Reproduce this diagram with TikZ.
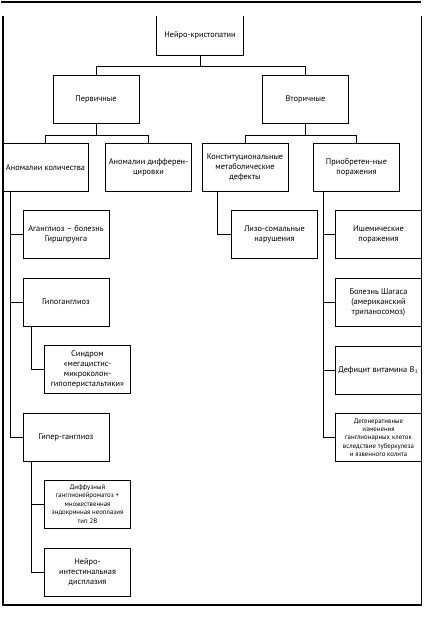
\documentclass[tikz,border=0pt]{standalone}
\usepackage{fontspec}
\setmainfont{PT Sans}
\usetikzlibrary{positioning,calc}
\tikzstyle{ClassNode}=[draw,rectangle,align=center,minimum width=86pt,minimum height=48pt,inner sep=1pt,font=\fontsize{8.3}{10}\selectfont]
\tikzstyle{SmallClassNode}=[ClassNode,font=\fontsize{6.8}{8.4}\selectfont]
\tikzstyle{FrameLine}=[line width=1.2pt]

\begin{document}
\begin{tikzpicture}[x=1pt,y=-1pt,node distance=67.5pt,on grid,line width=0.7pt]
  \useasboundingbox (0,0) rectangle (423,621);
  % page frame
  \draw[FrameLine] (1,2) -- (421,2);
  \draw[FrameLine] (3,16) -- (3,605) -- (421.5,605) -- (421.5,16);

  \node[ClassNode,draw=none,minimum height=39pt](Root) at (200,35.5){Нейро-кристопатии};
  \draw (Root.north west) -- (Root.south west) -- (Root.south east) -- (Root.north east);

  \node[ClassNode](Primary) at (96,99.5){Первичные};
  \node[ClassNode](Secondary) at (305.5,99.5){Вторичные};

  \node[ClassNode](Quantity) at (45.5,167.5){Аномалии количества};
  \node[ClassNode](Differentiation) at (148.5,167.5){Аномалии дифферен-\\цировки};
  \node[ClassNode](Metabolic) at (245,167.5){Конституциональные\\метаболические\\дефекты};
  \node[ClassNode](Acquired) at (356.5,167.5){Приобретен-ные\\поражения};

  % primary: anomalies of quantity
  \node[ClassNode](Aganglionosis) at (66,234.5){Аганглиоз – болезнь\\Гиршпрунга};
  \node[ClassNode,below=of Aganglionosis](Hypoganglionosis){Гипоганглиоз};
  \node[ClassNode,below right=67.5pt and 21.5pt of Hypoganglionosis](Megacystis){Синдром\\«мегацистис-\\микроколон-\\гипоперистальтики»};
  \node[ClassNode,below=135pt of Hypoganglionosis](Hyperganglionosis){Гипер-ганглиоз};
  \node[SmallClassNode,below right=67pt and 21.5pt of Hyperganglionosis](Ganglioneuromatosis){Диффузный\\ганглионейроматоз +\\множественная\\эндокринная неоплазия\\тип 2В};
  \node[ClassNode,below=68pt of Ganglioneuromatosis](Dysplasia){Нейро-\\интестинальная\\дисплазия};

  % secondary
  \node[ClassNode](Lysosomal) at (274.5,234.5){Лизо-сомальные\\нарушения};
  \node[ClassNode](Ischemic) at (378.5,234.5){Ишемические\\поражения};
  \node[ClassNode,below=68pt of Ischemic](Chagas){Болезнь Шагаса\\(американский\\трипаносомоз)};
  \node[ClassNode,below=of Chagas](Vitamin){Дефицит витамина B$_1$};
  \node[SmallClassNode,below=of Vitamin](Degenerative){Дегенеративные\\изменения\\ганглионарных клеток\\вследствие туберкулеза\\и язвенного колита};

  \draw (Root.south) -- ++(0,11) -| (Primary.north);
  \draw (Root.south) -- ++(0,11) -| (Secondary.north);
  \draw (Primary.south) -- ++(0,11) -| (Quantity.north);
  \draw (Primary.south) -- ++(0,11) -| (Differentiation.north);
  \draw (Secondary.south) -- ++(0,11) -| (Metabolic.north);
  \draw (Secondary.south) -- ++(0,11) -| (Acquired.north);

  \draw ($(Quantity.south west)+(8,0)$) |- (Aganglionosis.west);
  \draw ($(Quantity.south west)+(8,0)$) |- (Hypoganglionosis.west);
  \draw ($(Quantity.south west)+(8,0)$) |- (Hyperganglionosis.west);
  \draw ($(Hypoganglionosis.south west)+(9,0)$) |- (Megacystis.west);
  \draw ($(Hyperganglionosis.south west)+(9,0)$) |- (Ganglioneuromatosis.west);
  \draw ($(Hyperganglionosis.south west)+(9,0)$) |- (Dysplasia.west);

  \draw ($(Metabolic.south west)+(16,0)$) |- (Lysosomal.west);
  \draw ($(Acquired.south west)+(10,0)$) |- (Ischemic.west);
  \draw ($(Acquired.south west)+(10,0)$) |- (Chagas.west);
  \draw ($(Acquired.south west)+(10,0)$) |- (Vitamin.west);
  \draw ($(Acquired.south west)+(10,0)$) |- (Degenerative.west);
\end{tikzpicture}
\end{document}
